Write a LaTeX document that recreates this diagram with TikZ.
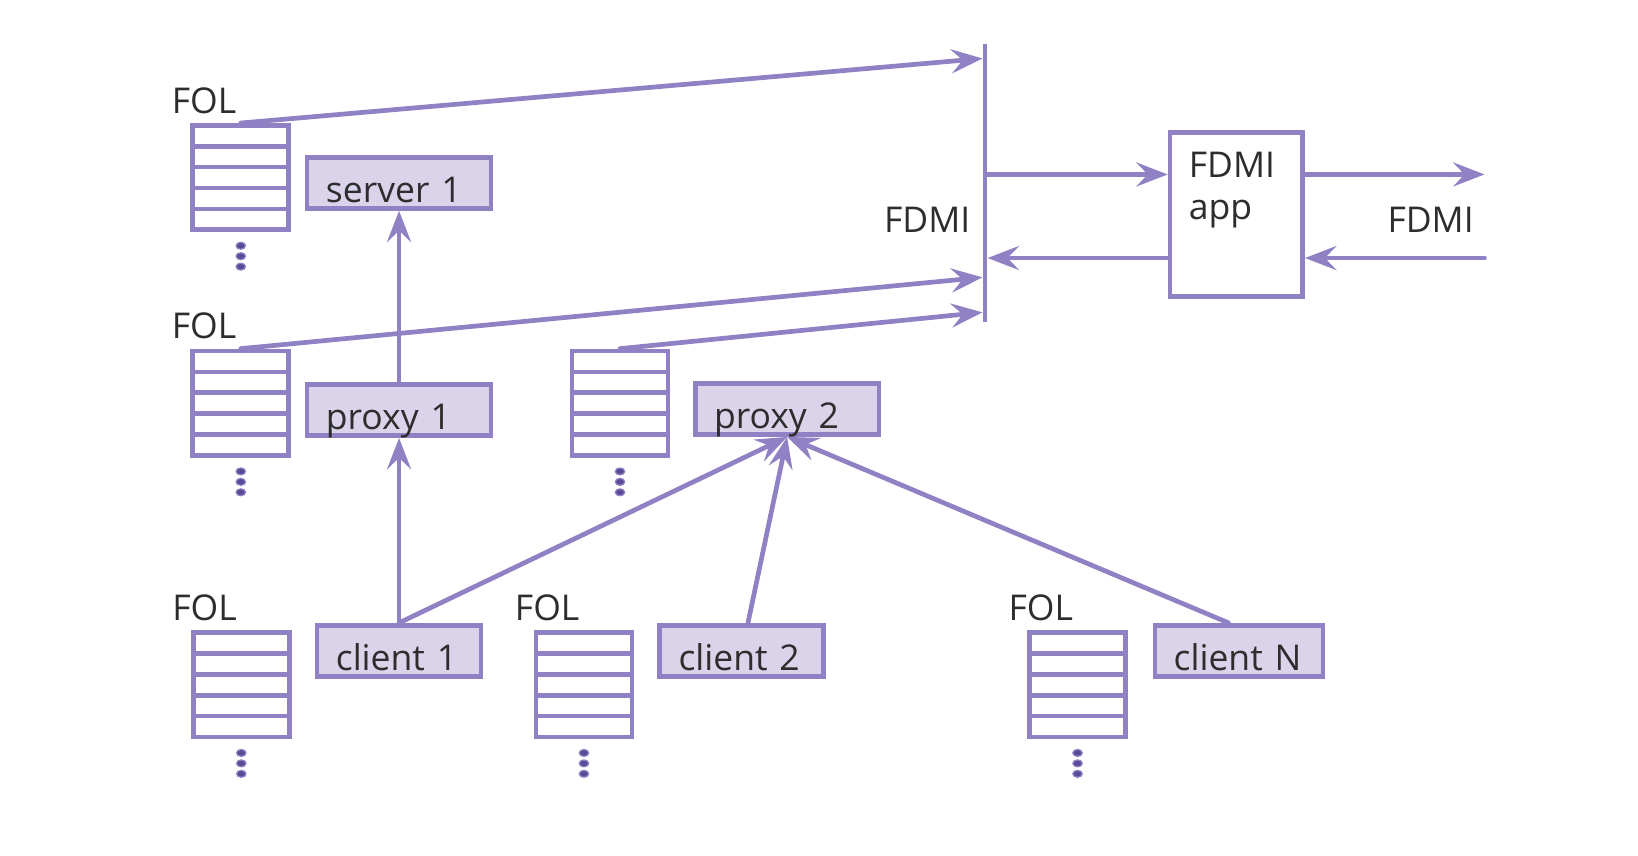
\documentclass[tikz,border=0pt]{standalone}
\usepackage{fontspec}
\setmainfont{Open Sans}
\usepackage{tikz}
\usepackage{xcolor}
\usetikzlibrary{positioning, fit, arrows.meta}
\usetikzlibrary{calc}
\definecolor{Lavender}{RGB}{144, 128, 196}
\definecolor{LavenderFill}{RGB}{218, 211, 234}
\definecolor{DarkText}{RGB}{45, 45, 45}
\definecolor{DotPurple}{RGB}{88, 74, 150}

\tikzset{
    queue/.style={draw=Lavender, line width=4.5pt, fill=white, minimum width=92pt, minimum height=100pt, inner sep=0pt,
        path picture={
            \foreach \k in {1,...,4}
                \draw[Lavender, line width=4.5pt]
                    ($(path picture bounding box.north west)!\k/5!(path picture bounding box.south west)$) --
                    ($(path picture bounding box.north east)!\k/5!(path picture bounding box.south east)$);
        }},
    role/.style={draw=Lavender, line width=4.5pt, fill=LavenderFill, text=DarkText, text width=#1, align=left,
        inner xsep=18pt, inner ysep=6pt, text height=37pt, text depth=0pt},
    role/.default=140pt,
    lbl/.style={text=DarkText, inner sep=0pt},
    link/.style={draw=Lavender, line width=4.5pt, line cap=round, -{Stealth[length=30pt, width=23pt, inset=11pt]}},
    dot/.style={fill=DotPurple, draw=Lavender, line width=1.2pt},
}

\begin{document}
\begin{tikzpicture}[x=1pt, y=-1pt, every node/.style={font=\fontsize{34pt}{40pt}\selectfont}]
        \useasboundingbox (0,0) rectangle (1568,819);

        % FOL queues
        \node[queue] (fol1) at (230.5,170) {};
        \node[queue] (fol2) at (230.5,386) {};
        \node[queue] (fol3) at (593.5,386) {};
        \node[queue] (fol4) at (231,655.5) {};
        \node[queue] (fol5) at (559,655.5) {};
        \node[queue] (fol6) at (1031.5,655.5) {};
        \foreach \n in {1,...,6}
            \foreach \d in {13pt,23pt,33pt}
                \filldraw[dot] ([yshift=-\d]fol\n.south) ellipse [x radius=4.5pt, y radius=3.3pt];

        % FOL labels
        \node[lbl, anchor=base west] (fl1) at ([xshift=-18pt, yshift=9.5pt]fol1.north west) {FOL};
        \node[lbl, anchor=base west] (fl2) at ([xshift=-18pt, yshift=9.5pt]fol2.north west) {FOL};
        \node[lbl, anchor=base west] (fl4) at ([xshift=-18pt, yshift=9.5pt]fol4.north west) {FOL};
        \node[lbl, anchor=base west] (fl5) at ([xshift=-18pt, yshift=9.5pt]fol5.north west) {FOL};
        \node[lbl, anchor=base west] (fl6) at ([xshift=-18pt, yshift=9.5pt]fol6.north west) {FOL};

        % Servers, proxies and clients
        \node[role] (server1) at (382,175) {server 1};
        \node[role] (proxy1) at (382,392.5) {proxy 1};
        \node[role] (proxy2) at (753.5,391.5) {proxy 2};
        \node[role=121pt] (client1) at (382,623) {client 1};
        \node[role=121pt] (client2) at (710,623) {client 2};
        \node[role=125pt] (clientN) at (1186,623) {client N};

        % FDMI bus and application
        \node[fill=Lavender, minimum width=4.5pt, minimum height=266pt, inner sep=0pt] (bus) at (943,175) {};
        \node[lbl, anchor=base east] (fdmiL) at (929,223) {FDMI};
        \node[role=91pt, text depth=108pt, fill=white] (app) at (1183.5,205.5) {FDMI\\app};
        \node[lbl, anchor=base west] (fdmiR) at (1328,223) {FDMI};

        % Points on the bus and free ends
        \coordinate (hit1) at (bus.west |- 0,56);
        \coordinate (hit2) at (bus.west |- 0,265.5);
        \coordinate (hit3) at (bus.west |- 0,299);
        \coordinate (busOut) at (bus.east |- 0,167);
        \coordinate (busIn) at (bus.east |- 0,247);
        \coordinate (outR) at (1421,167);
        \coordinate (inR) at (1421,247);

        % Queues to the bus
        \draw[link] (fol1.north) -- (hit1);
        \draw[link] (fol2.north) -- (hit2);
        \draw[link] (fol3.north) -- (hit3);

        % Requests upwards
        \draw[link] (proxy1.north) -- (server1.south);
        \draw[link] (client1.north) -- (proxy1.south);
        \draw[link] (client1.north) -- (proxy2.south);
        \draw[link] ([xshift=6pt]client2.north) -- (proxy2.south);
        \draw[link] ([xshift=-10pt]clientN.north) -- (proxy2.south);

        % Bus and app
        \draw[link] (busOut) -- (app.west |- busOut);
        \draw[link] (app.west |- busIn) -- (busIn);
        \draw[link] (app.east |- outR) -- (outR);
        \draw[link] (inR) -- (app.east |- inR);
    \end{tikzpicture}
\end{document}
